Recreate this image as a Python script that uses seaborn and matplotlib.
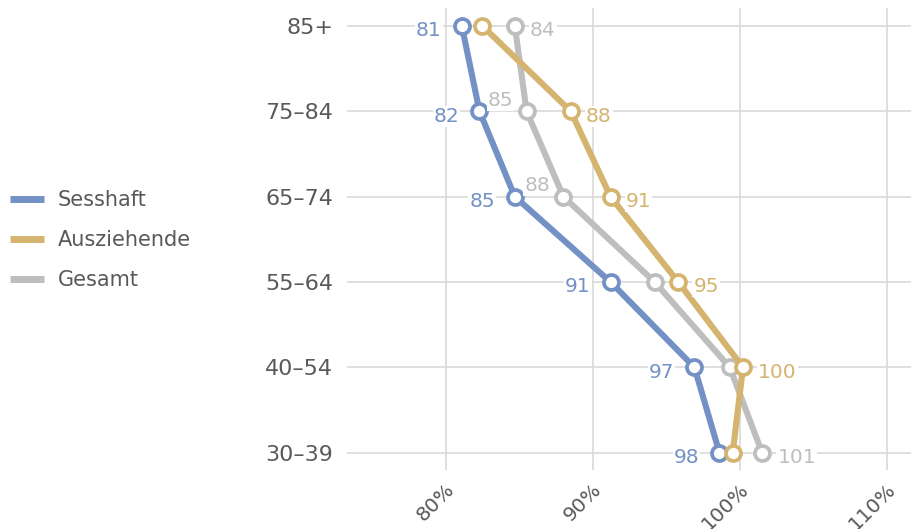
import seaborn as sns
import matplotlib.pyplot as plt
import pandas as pd
from matplotlib.lines import Line2D
from matplotlib.transforms import ScaledTranslation

# data
ages = ["30–39", "40–54", "55–64", "65–74", "75–84", "85+"]
groups = ["Sesshaft", "Ausziehende", "Gesamt"]
sesshaft = [98.6, 96.9, 91.2, 84.7, 82.3, 81.1]
ausziehende = [99.5, 100.2, 95.8, 91.2, 88.5, 82.5]
gesamt = [101.5, 99.3, 94.2, 88.0, 85.5, 84.7]
sesshaft_lbl = ["98", "97", "91", "85", "82", "81"]
ausziehende_lbl = ["", "100", "95", "91", "88", ""]
gesamt_lbl = ["101", "", "", "88", "85", "84"]
xticks = [80, 90, 100, 110]
colors = ["#7391c4", "#d4b46e", "#bebebe"]

values = {"Sesshaft": sesshaft, "Ausziehende": ausziehende, "Gesamt": gesamt}
labels = {"Sesshaft": sesshaft_lbl, "Ausziehende": ausziehende_lbl, "Gesamt": gesamt_lbl}

rows = []
for g in groups:
    for a, v in zip(ages, values[g]):
        rows.append({"alter": a, "wert": v, "gruppe": g})
df = pd.DataFrame(rows)
df["alter"] = pd.Categorical(df["alter"], categories=ages)

sns.set_style("white")
plt.rcParams["font.family"] = ["DejaVu Sans"]
txt = "#595959"

fig = plt.figure(figsize=(9.12, 5.29), dpi=100)
ax = fig.add_axes([0.380, 0.1115, 0.620, 0.8735])

sns.lineplot(data=df, x="wert", y="alter", hue="gruppe", hue_order=groups,
             palette=colors, orient="y", sort=False, marker="o",
             markersize=10.8, markeredgewidth=2.7, markerfacecolor="white",
             linewidth=4.4, legend=False, ax=ax)

# ring markers in the line colour, gold on top like the original
for line, z in zip(ax.lines, [2.1, 2.3, 2.2]):
    line.set_zorder(z)
    line.set_markeredgecolor(line.get_color())
    line.set_markerfacecolor("white")

ax.set_xlim(73.27, 111.68)
ax.set_ylim(-0.203, 5.211)
ax.set_yticks(range(len(ages)))
ax.set_yticklabels(ages)
ax.set_xticks(xticks)
ax.set_xticklabels([f"{v}%" for v in xticks])
ax.set_xlabel("")
ax.set_ylabel("")
ax.grid(True, color="#d9d9d9", linewidth=1.2)
ax.set_axisbelow(True)
for s in ax.spines.values():
    s.set_visible(False)
ax.tick_params(axis="y", length=0, pad=9.6, labelsize=16, labelcolor=txt)
ax.tick_params(axis="x", length=0, pad=12, labelsize=14.5, labelcolor=txt)
for lab in ax.get_xticklabels():
    lab.set_rotation(45)
    lab.set_ha("right")
    lab.set_va("center")
    lab.set_rotation_mode("anchor")
    lab.set_transform(lab.get_transform() + ScaledTranslation(5.6 / 100, 0, fig.dpi_scale_trans))

# value labels: leftmost on the left, rightmost on the right, middle above-left
for i in range(len(ages)):
    order = sorted(groups, key=lambda g: values[g][i])
    for pos, g in enumerate(order):
        t = labels[g][i]
        if not t:
            continue
        c = colors[groups.index(g)]
        if pos == 0:
            off, ha = (-14.4, -3.5), "right"
        elif pos == 2:
            off, ha = (11, -3.5), "left"
        else:
            off, ha = (-9.5, 8), "right"
        ax.annotate(t, (values[g][i], i), xytext=off, textcoords="offset points",
                    ha=ha, va="center", color=c, fontsize=14.5, zorder=5,
                    bbox=dict(boxstyle="square,pad=0.05", fc="white", ec="none"))

handles = [Line2D([], [], color=c, linewidth=5, solid_capstyle="butt") for c in colors]
fig.legend(handles, groups, loc="center left", bbox_to_anchor=(0.011, 0.546),
           frameon=False, borderpad=0, borderaxespad=0, fontsize=15,
           labelcolor=txt, handlelength=1.65, handletextpad=0.65, labelspacing=0.95)

plt.savefig("out.png", dpi=100)
